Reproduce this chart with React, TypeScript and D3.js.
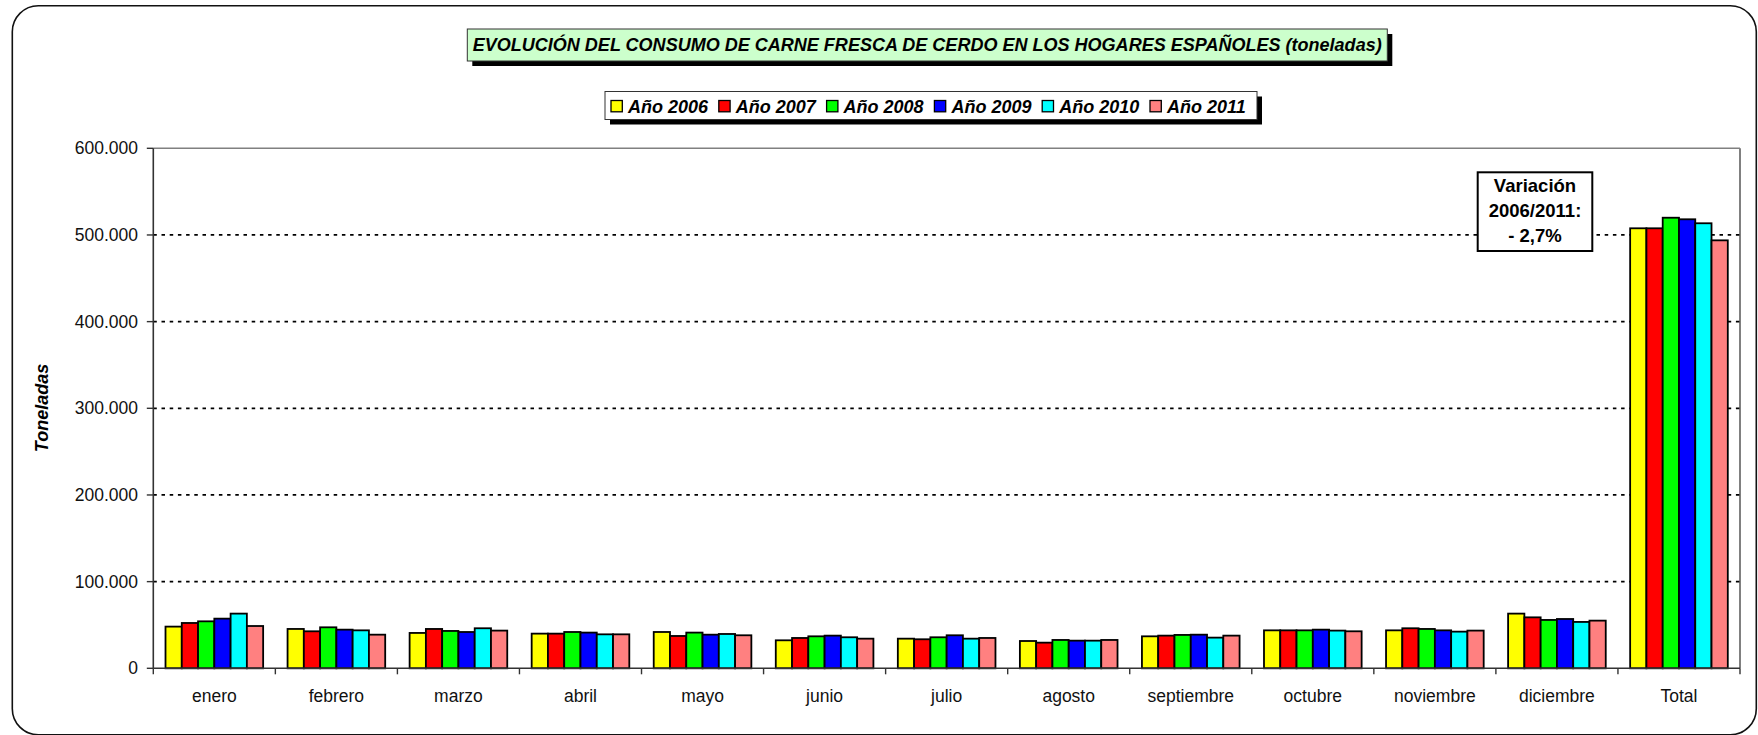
import React from "react";
import * as d3 from "d3";

const categories = ["enero", "febrero", "marzo", "abril", "mayo", "junio", "julio", "agosto", "septiembre", "octubre", "noviembre", "diciembre", "Total"];
const seriesNames = ["Año 2006", "Año 2007", "Año 2008", "Año 2009", "Año 2010", "Año 2011"];
const y2006 = [48100, 45400, 40800, 40000, 41900, 32300, 34200, 31500, 36900, 43800, 43800, 63100, 507700];
const y2007 = [52300, 42700, 45400, 40000, 37300, 35000, 33500, 29600, 37700, 43800, 46200, 58800, 507700];
const y2008 = [54200, 47300, 43100, 41900, 41200, 36900, 35800, 32700, 38500, 43800, 45400, 55800, 519900];
const y2009 = [57300, 44600, 41900, 41200, 38800, 37700, 38100, 31900, 38800, 44600, 43800, 56900, 518100];
const y2010 = [63100, 43800, 46200, 39200, 39600, 35800, 34200, 31900, 35400, 43500, 42300, 53500, 513500];
const y2011 = [48800, 38800, 43500, 39200, 38100, 34200, 35000, 32700, 37700, 42700, 43500, 55000, 493800];
const seriesColors = ["#FFFF00", "#FF0000", "#00FF00", "#0000FF", "#00FFFF", "#FF8080"];
const yTicks = [0, 100000, 200000, 300000, 400000, 500000, 600000];
const titleText = "EVOLUCIÓN DEL CONSUMO DE CARNE FRESCA DE CERDO EN LOS HOGARES ESPAÑOLES (toneladas)";
const yAxisTitle = "Toneladas";
const noteLines = ["Variación", "2006/2011:", "- 2,7%"];

const allSeries = [y2006, y2007, y2008, y2009, y2010, y2011];

const W = 1758;
const H = 735;
const plotL = 153.3;
const plotR = 1740;
const plotT = 148.3;
const plotB = 668.3;
const FONT = "'Liberation Sans', Arial, Helvetica, sans-serif";

const locale = d3.formatLocale({ decimal: ",", thousands: ".", grouping: [3], currency: ["", "€"] });
const fmt = locale.format(",d");

export default function App() {
  const x = d3.scaleBand<string>().domain(categories).range([plotL, plotR]).padding(0);
  const xs = d3
    .scaleBand<string>()
    .domain(seriesNames)
    .range([0, x.bandwidth()])
    .paddingInner(0)
    .paddingOuter(0.75);
  const y = d3.scaleLinear().domain([0, 600000]).range([plotB, plotT]);

  const legendX = 605;
  const legendY = 91.5;
  const legendW = 652;
  const legendH = 28;
  const itemStep = 107.8;

  const noteX = 1477.7;
  const noteY = 172.3;
  const noteW = 114.6;
  const noteH = 78.7;

  const boundaries = d3.range(categories.length + 1).map((i) => plotL + i * x.step());

  return (
    <svg
      width={W}
      height={H}
      style={{ position: "absolute", left: 0, top: 0, background: "#fff" }}
      fontFamily={FONT}
    >
      <rect x={0} y={0} width={W} height={H} fill="#fff" />
      {/* frame */}
      <rect x={12.3} y={5.7} width={1744} height={729} rx={26} ry={26} fill="none" stroke="#111" strokeWidth={1.6} />

      {/* title */}
      <rect x={472.3} y={34} width={920} height={32} fill="#000" />
      <rect x={467.3} y={29} width={920} height={32} fill="#CCFFCC" stroke="#333" strokeWidth={1} />
      <text
        x={472.7}
        y={51}
        fontSize={18}
        fontWeight="bold"
        fontStyle="italic"
        textLength={909}
        lengthAdjust="spacingAndGlyphs"
        fill="#000"
      >
        {titleText}
      </text>

      {/* legend */}
      <rect x={legendX + 5} y={legendY + 5} width={legendW} height={legendH} fill="#000" />
      <rect x={legendX} y={legendY} width={legendW} height={legendH} fill="#fff" stroke="#333" strokeWidth={1} />
      {seriesNames.map((s, i) => (
        <g key={s} transform={`translate(${611 + i * itemStep},0)`}>
          <rect x={0} y={100.5} width={11.3} height={11.3} fill={seriesColors[i]} stroke="#000" strokeWidth={1.3} />
          <text x={17} y={112.5} fontSize={18} fontWeight="bold" fontStyle="italic" fill="#000">
            {s}
          </text>
        </g>
      ))}

      {/* plot area border */}
      <line x1={plotL} x2={plotR} y1={plotT} y2={plotT} stroke="#808080" strokeWidth={1.5} />
      <line x1={plotR} x2={plotR} y1={plotT} y2={plotB} stroke="#808080" strokeWidth={2} />

      {/* gridlines */}
      {yTicks
        .filter((t) => t > 0 && t < 600000)
        .map((t) => (
          <line
            key={t}
            x1={plotL}
            x2={plotR}
            y1={y(t)}
            y2={y(t)}
            stroke="#000"
            strokeWidth={1.8}
            strokeDasharray="3.5 4.7"
          />
        ))}

      {/* bars */}
      {categories.map((c, ci) => (
        <g key={c} transform={`translate(${x(c)},0)`}>
          {allSeries.map((arr, si) => (
            <rect
              key={si}
              x={xs(seriesNames[si])}
              y={y(arr[ci])}
              width={xs.bandwidth()}
              height={plotB - y(arr[ci])}
              fill={seriesColors[si]}
              stroke="#000"
              strokeWidth={1.8}
            />
          ))}
        </g>
      ))}

      {/* axes */}
      <line x1={plotL} x2={plotL} y1={plotT} y2={plotB} stroke="#333" strokeWidth={1.6} />
      <line x1={plotL} x2={plotR} y1={plotB} y2={plotB} stroke="#333" strokeWidth={1.6} />
      {yTicks.map((t) => (
        <g key={t}>
          <line x1={plotL - 6.5} x2={plotL} y1={y(t)} y2={y(t)} stroke="#333" strokeWidth={1.4} />
          <text x={138} y={y(t)} dy="0.35em" textAnchor="end" fontSize={17.5} fill="#111">
            {fmt(t)}
          </text>
        </g>
      ))}
      {boundaries.map((bx, i) => (
        <line key={i} x1={bx} x2={bx} y1={plotB} y2={plotB + 6} stroke="#333" strokeWidth={1.4} />
      ))}
      {categories.map((c) => (
        <text
          key={c}
          x={(x(c) as number) + x.bandwidth() / 2}
          y={701.5}
          textAnchor="middle"
          fontSize={17.5}
          fill="#111"
        >
          {c}
        </text>
      ))}

      {/* y axis title */}
      <text
        transform={`translate(48,408) rotate(-90)`}
        textAnchor="middle"
        fontSize={18}
        fontWeight="bold"
        fontStyle="italic"
        fill="#000"
      >
        {yAxisTitle}
      </text>

      {/* annotation */}
      <rect x={noteX} y={noteY} width={noteW} height={noteH} fill="#fff" stroke="#000" strokeWidth={2} />
      {noteLines.map((l, i) => (
        <text
          key={i}
          x={noteX + noteW / 2}
          y={191.7 + i * 25}
          textAnchor="middle"
          fontSize={18.5}
          fontWeight="bold"
          fill="#000"
        >
          {l}
        </text>
      ))}
    </svg>
  );
}
